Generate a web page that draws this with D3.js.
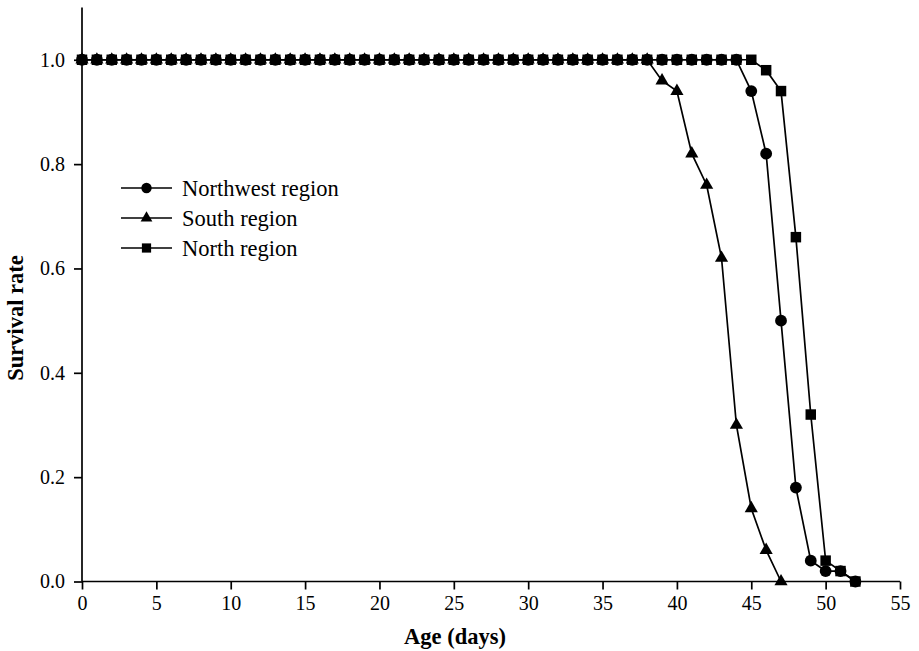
<!DOCTYPE html>
<html>
<head>
<meta charset="utf-8">
<script src="https://cdn.jsdelivr.net/npm/d3@7"></script>
<style>
  body { margin: 0; background: #fff; }
  svg { display: block; }
  text { font-family: "Liberation Serif", "Times New Roman", serif; fill: #000; }
</style>
</head>
<body>
<svg id="chart" width="919" height="651"></svg>
<script>
// Age (days)
const days = d3.range(0, 53);
// Survival rate per region, by day 0..52
const northwest = [
  1,1,1,1,1,1,1,1,1,1, 1,1,1,1,1,1,1,1,1,1,
  1,1,1,1,1,1,1,1,1,1, 1,1,1,1,1,1,1,1,1,1,
  1,1,1,1,1,0.94,0.82,0.50,0.18,0.04, 0.02,0.02,0.0
];
const south = [
  1,1,1,1,1,1,1,1,1,1, 1,1,1,1,1,1,1,1,1,1,
  1,1,1,1,1,1,1,1,1,1, 1,1,1,1,1,1,1,1,1,0.96,
  0.94,0.82,0.76,0.62,0.30,0.14,0.06,0.0
];
const north = [
  1,1,1,1,1,1,1,1,1,1, 1,1,1,1,1,1,1,1,1,1,
  1,1,1,1,1,1,1,1,1,1, 1,1,1,1,1,1,1,1,1,1,
  1,1,1,1,1,1,0.98,0.94,0.66,0.32, 0.04,0.02,0.0
];
const seriesNames = ["Northwest region", "South region", "North region"];
const xTicks = [0,5,10,15,20,25,30,35,40,45,50,55];
const yTicks = [0,0.2,0.4,0.6,0.8,1.0];

const FONT = "'Liberation Serif', 'Times New Roman', serif";
const svg = d3.select("#chart");
const x = d3.scaleLinear().domain([0, 55]).range([82, 900]);
const y = d3.scaleLinear().domain([0, 1.1]).range([581.5, 7.6]);

// axes
const xAxis = svg.append("g").attr("transform", "translate(0,581.5)")
  .call(d3.axisBottom(x).tickValues(xTicks).tickSize(8).tickPadding(6).tickFormat(d3.format("d")));
const yAxis = svg.append("g").attr("transform", "translate(82,0)")
  .call(d3.axisLeft(y).tickValues(yTicks).tickSize(8).tickPadding(9).tickFormat(d3.format(".1f")));
[xAxis, yAxis].forEach(g => {
  g.attr("font-family", FONT);
  g.select(".domain").attr("stroke", "#000").attr("stroke-width", 1.7);
  g.selectAll(".tick line").attr("stroke", "#000").attr("stroke-width", 1.7);
  g.selectAll(".tick text").attr("font-size", 20).attr("font-family", FONT);
});
xAxis.select(".domain").attr("d", `M${x(0)},0H${x(55)}`);
yAxis.select(".domain").attr("d", `M0,${y(0)}V${y(1.1)}`);

// axis titles
svg.append("text").attr("x", 455).attr("y", 644).attr("text-anchor", "middle")
  .attr("font-family", FONT).attr("font-size", 22.5).attr("font-weight", "bold").text("Age (days)");
svg.append("text").attr("transform", "translate(23,318) rotate(-90)").attr("text-anchor", "middle")
  .attr("font-family", FONT).attr("font-size", 22.5).attr("font-weight", "bold").text("Survival rate");

const line = d3.line().x((d, i) => x(days[i])).y(d => y(d));
const series = [
  { name: seriesNames[1], values: south, symbol: d3.symbolTriangle, size: 75 },
  { name: seriesNames[2], values: north, symbol: d3.symbolSquare, size: 110 },
  { name: seriesNames[0], values: northwest, symbol: d3.symbolCircle, size: 110 }
];

series.forEach(s => {
  svg.append("path").attr("d", line(s.values)).attr("fill", "none")
    .attr("stroke", "#000").attr("stroke-width", 1.7);
});
series.forEach(s => {
  const sym = d3.symbol().type(s.symbol).size(s.size);
  svg.append("g").selectAll("path").data(s.values).join("path")
    .attr("transform", (d, i) => `translate(${x(days[i])},${y(d)})`)
    .attr("d", sym).attr("fill", "#000");
});

// legend
const legendItems = [
  { name: seriesNames[0], symbol: d3.symbolCircle, size: 85 },
  { name: seriesNames[1], symbol: d3.symbolTriangle, size: 60 },
  { name: seriesNames[2], symbol: d3.symbolSquare, size: 85 }
];
const legend = svg.append("g");
legendItems.forEach((it, i) => {
  const yy = 188 + i * 30;
  legend.append("line").attr("x1", 121).attr("x2", 172).attr("y1", yy).attr("y2", yy)
    .attr("stroke", "#000").attr("stroke-width", 1.7);
  legend.append("path").attr("transform", `translate(146.5,${yy})`)
    .attr("d", d3.symbol().type(it.symbol).size(it.size)).attr("fill", "#000");
  legend.append("text").attr("x", 182).attr("y", yy + 7.5).attr("font-family", FONT)
    .attr("font-size", 22.5).text(it.name);
});
</script>
</body>
</html>
